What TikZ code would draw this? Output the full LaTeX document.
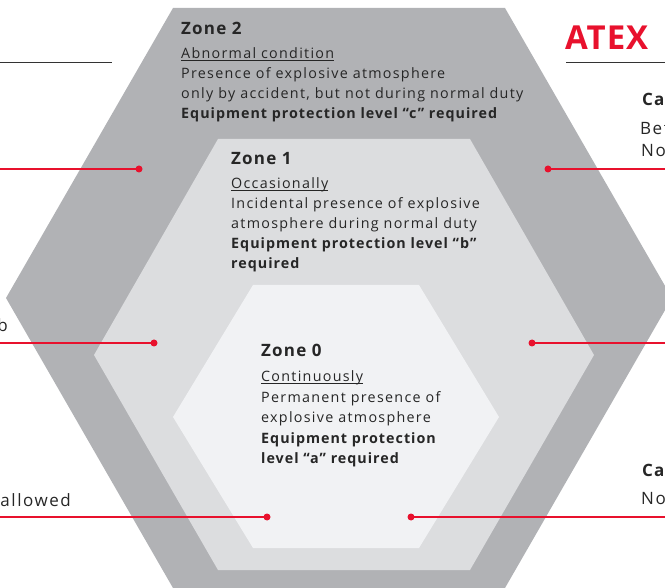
\documentclass[tikz,border=0pt]{standalone}
\usepackage{fontspec}
\setmainfont[LetterSpace=9,BoldFeatures={LetterSpace=7}]{Open Sans}
\newfontfamily\atexfont[LetterSpace=3]{Open Sans}
\definecolor{hexout}{HTML}{B1B2B5}
\definecolor{hexmid}{HTML}{DCDDDF}
\definecolor{hexin}{HTML}{F1F2F4}
\definecolor{abbred}{HTML}{E8112D}
\definecolor{textdark}{HTML}{262626}
\definecolor{ruledark}{HTML}{333333}
\newsavebox\zulbox
\newcommand\zul[1]{\sbox\zulbox{#1}\rlap{\rule[-2.2pt]{\wd\zulbox}{0.9pt}}\usebox\zulbox}
\newcommand\zhead[1]{\hbox{\fontsize{17}{20}\selectfont\bfseries #1}}
\newcommand\zline[1]{\hbox{#1}}
\tikzset{
  zonetext/.style={anchor=base west, inner sep=0pt, text=textdark, font=\fontsize{14.3}{20}\selectfont},
  sidetext/.style={inner sep=0pt, text=textdark, font=\fontsize{17}{22}\selectfont},
  reddot/.style={circle, fill=abbred, draw=none, minimum size=7pt, inner sep=0pt},
  redline/.style={draw=abbred, line width=1.5pt},
  blackrule/.style={draw=ruledark, line width=1pt}
}
\begin{document}
\begin{tikzpicture}[x=1pt,y=-1pt]
\useasboundingbox (0,0) rectangle (665,588);
\clip (0,0) rectangle (665,588);
% hexagons
\fill[hexout] (173,8) -- (505,8) -- (672,298) -- (505,588) -- (173,588) -- (6,298) -- cycle;
\fill[hexmid] (218,139) -- (470,139) -- (594,355) -- (470,570) -- (218,570) -- (94,355) -- cycle;
\fill[hexin] (253,285) -- (419,285) -- (499,417) -- (419,548) -- (253,548) -- (173,417) -- cycle;
% rules
\coordinate (rl1) at (0,63); \coordinate (rl2) at (112,63);
\coordinate (rr1) at (566,63); \coordinate (rr2) at (665,63);
\draw[blackrule] (rl1) -- (rl2);
\draw[blackrule] (rr1) -- (rr2);
% ATEX
\node[anchor=base west, inner sep=0pt, text=abbred, font=\atexfont\fontsize{33}{36}\selectfont\bfseries] (atex) at (565,50) {ATEX};
% red dots and lines
\node[reddot] (d2l) at (139,169) {};
\node[reddot] (d2r) at (548,169) {};
\node[reddot] (d1l) at (154,343) {};
\node[reddot] (d1r) at (532,343) {};
\node[reddot] (d0l) at (267,517) {};
\node[reddot] (d0r) at (411,517) {};
\coordinate (e2l) at (0,169); \coordinate (e2r) at (665,169);
\coordinate (e1l) at (0,343); \coordinate (e1r) at (665,343);
\coordinate (e0l) at (0,517); \coordinate (e0r) at (665,517);
\draw[redline] (e2l) -- (d2l.center);
\draw[redline] (d2r.center) -- (e2r);
\draw[redline] (e1l) -- (d1l.center);
\draw[redline] (d1r.center) -- (e1r);
\draw[redline] (e0l) -- (d0l.center);
\draw[redline] (d0r.center) -- (e0r);
% zone texts
\node[zonetext] (z2) at (181,35) {\vtop{\baselineskip=24pt
  \zhead{Zone 2}
  \zline{\zul{Abnormal condition}}
  \baselineskip=20pt
  \zline{Presence of explosive atmosphere}
  \zline{only by accident, but not during normal duty}
  \zline{\bfseries Equipment protection level “c” required}}};
\node[zonetext] (z1) at (231,165) {\vtop{\baselineskip=24pt
  \zhead{Zone 1}
  \zline{\zul{Occasionally}}
  \baselineskip=20pt
  \zline{Incidental presence of explosive}
  \zline{atmosphere during normal duty}
  \zline{\bfseries Equipment protection level “b”}
  \zline{\bfseries required}}};
\node[zonetext] (z0) at (261,357) {\vtop{\baselineskip=25pt
  \zhead{Zone 0}
  \zline{\zul{Continuously}}
  \baselineskip=20.5pt
  \zline{Permanent presence of}
  \zline{explosive atmosphere}
  \zline{\bfseries Equipment protection}
  \zline{\bfseries level “a” required}}};
% side texts (cut by the page edge)
\node[sidetext, anchor=base east] (sl1) at (8,332) {b};
\node[sidetext, anchor=base east] (sl0) at (71,506) {allowed};
\node[sidetext, anchor=base west, font=\fontsize{17}{22}\selectfont\bfseries] (sr2a) at (642,106) {Ca};
\node[sidetext, anchor=base west] (sr2b) at (640,135) {Bet};
\node[sidetext, anchor=base west] (sr2c) at (641,157) {No};
\node[sidetext, anchor=base west, font=\fontsize{17}{22}\selectfont\bfseries] (sr0a) at (642,477) {Ca};
\node[sidetext, anchor=base west] (sr0b) at (641,504) {No};
\end{tikzpicture}
\end{document}
